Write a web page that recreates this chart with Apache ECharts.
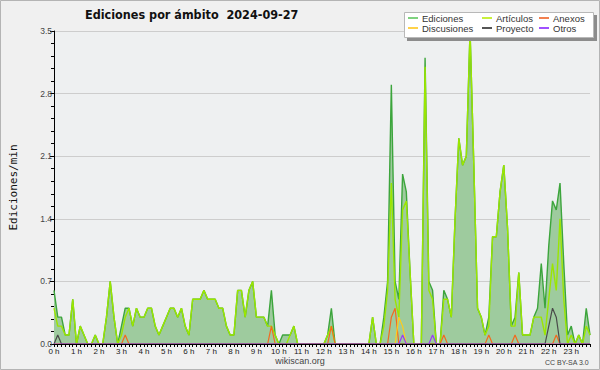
<!DOCTYPE html>
<html><head><meta charset="utf-8">
<script src="https://cdn.jsdelivr.net/npm/echarts@6/dist/echarts.min.js"></script>
<style>html,body{margin:0;padding:0;background:#f0f0f0;}#c{width:600px;height:370px;}</style>
</head><body><div id="c"></div>
<script>
const titleText = 'Ediciones por ámbito  2024-09-27';
const yAxisTitle = 'Ediciones/min';
const hourLabels = ['0 h','1 h','2 h','3 h','4 h','5 h','6 h','7 h','8 h','9 h','10 h','11 h',
  '12 h','13 h','14 h','15 h','16 h','17 h','18 h','19 h','20 h','21 h','22 h','23 h'];
const slotMinutes = ['00','10','20','30','40','50'];
const seriesNames = ['Ediciones','Artículos','Anexos','Discusiones','Proyecto','Otros'];

// values in edits/min, one per 10-minute slot, one row per hour
const ediciones = [
  0.6,0.3,0.3,0.1,0.1,0.5,
  0,0.2,0.1,0,0,0.1,
  0,0,0.3,0.7,0.3,0,
  0.2,0.4,0.4,0.2,0.4,0.3,
  0.3,0.4,0.4,0.2,0.1,0.2,
  0.3,0.4,0.4,0.3,0.4,0.2,
  0.1,0.5,0.5,0.5,0.6,0.5,
  0.5,0.5,0.4,0.4,0.2,0.1,
  0.1,0.6,0.6,0.3,0.6,0.7,
  0.3,0.3,0.3,0.2,0.6,0.1,
  0,0.1,0.1,0.1,0.2,0,
  0,0,0,0,0,0,
  0,0.1,0.4,0,0,0,
  0,0,0,0,0,0,
  0,0.3,0,0,0.3,0.7,
  2.9,0.7,0.5,1.9,1.7,0.8,
  0,0,0,3.2,0.7,0.6,
  0,0,0.6,0.5,0.3,1.4,
  2.3,2.0,2.1,3.5,2.0,0.4,
  0.3,0.1,0.3,1.2,1.2,1.7,
  2.0,1.3,0.2,0.3,0.8,0.1,
  0.1,0.1,0.3,0.4,0.9,0.4,
  1.1,1.6,1.5,1.8,0.9,0.1,
  0.2,0,0.1,0,0.4,0.1
];
const articulos = [
  0.4,0.2,0.2,0.1,0.1,0.5,
  0,0.2,0.1,0,0,0.1,
  0,0,0.3,0.7,0.3,0,
  0.1,0.3,0.4,0.2,0.4,0.3,
  0.3,0.4,0.4,0.2,0.1,0.2,
  0.3,0.4,0.4,0.3,0.4,0.2,
  0.1,0.5,0.5,0.5,0.6,0.5,
  0.5,0.5,0.4,0.4,0.2,0.1,
  0.1,0.6,0.6,0.3,0.6,0.7,
  0.3,0.3,0.3,0.2,0.2,0.1,
  0,0,0,0.1,0.2,0,
  0,0,0,0,0,0,
  0,0.1,0.2,0,0,0,
  0,0,0,0,0,0,
  0,0.3,0,0,0.2,0.6,
  1.8,0.5,0.3,1.5,1.6,0.8,
  0,0,0,3.1,0.6,0.5,
  0,0,0.5,0.5,0.3,1.4,
  2.3,2.0,2.1,3.5,2.0,0.4,
  0.3,0.1,0.2,1.2,1.2,1.7,
  2.0,1.3,0.2,0.2,0.8,0.1,
  0.1,0.1,0.3,0.3,0.3,0.1,
  0.5,0.9,0.6,1.4,0.5,0,
  0.1,0,0.1,0,0.2,0.1
];
const anexos = [
  0,0,0,0,0,0, 0,0,0,0,0,0, 0,0,0,0,0,0,
  0,0.1,0,0,0,0, 0,0,0,0,0,0, 0,0,0,0,0,0,
  0,0,0,0,0,0, 0,0,0,0,0,0, 0,0,0,0,0,0,
  0,0,0,0,0.2,0, 0,0,0,0,0,0, 0,0,0,0,0,0,
  0,0,0.2,0,0,0, 0,0,0,0,0,0, 0,0,0,0,0,0,
  0.3,0.4,0,0,0,0, 0,0,0,0,0,0, 0,0,0.1,0,0,0,
  0,0,0,0,0,0, 0,0,0.1,0,0,0, 0,0,0,0.1,0,0,
  0,0,0,0,0,0, 0,0,0.1,0,0,0, 0,0,0,0,0,0
];
const discusiones = [
  0,0,0,0,0,0, 0,0,0,0,0,0, 0,0,0,0,0,0,
  0,0,0,0,0,0, 0,0,0,0,0,0, 0,0,0,0,0,0,
  0,0,0,0,0,0, 0,0,0,0,0,0, 0,0,0,0,0,0,
  0,0,0,0,0,0, 0,0,0,0,0,0, 0,0,0,0,0,0,
  0,0,0,0,0,0, 0,0,0,0,0,0, 0,0,0,0,0,0,
  0,0,0.3,0.2,0,0, 0,0,0,0,0,0, 0,0,0,0,0,0,
  0,0,0,0,0,0, 0,0,0,0,0,0, 0,0,0,0,0,0,
  0,0,0,0,0,0, 0,0,0,0,0,0, 0,0,0,0,0,0
];
const proyecto = [
  0,0.1,0,0,0,0, 0,0,0,0,0,0, 0,0,0,0,0,0,
  0,0,0,0,0,0, 0,0,0,0,0,0, 0,0,0,0,0,0,
  0,0,0,0,0,0, 0,0,0,0,0,0, 0,0,0,0,0,0,
  0,0,0,0,0,0, 0,0,0,0,0,0, 0,0,0,0,0,0,
  0,0,0,0,0,0, 0,0,0,0,0,0, 0,0,0,0,0,0,
  0,0,0,0,0,0, 0,0,0,0,0,0, 0,0,0,0,0,0,
  0,0,0,0,0,0, 0,0,0,0,0,0, 0,0,0,0,0,0,
  0,0,0,0,0,0, 0.2,0.4,0.3,0,0,0, 0,0,0,0,0,0
];
const otros = [
  0,0,0,0,0,0, 0,0,0,0,0,0, 0,0,0,0,0,0,
  0,0,0,0,0,0, 0,0,0,0,0,0, 0,0,0,0,0,0,
  0,0,0,0,0,0, 0,0,0,0,0,0, 0,0,0,0,0,0,
  0,0,0,0,0,0, 0,0,0,0,0,0, 0,0,0,0,0,0,
  0,0,0,0,0,0, 0,0,0,0,0,0, 0,0,0,0,0,0,
  0,0,0,0.1,0,0, 0,0,0,0,0,0.1, 0,0,0,0,0,0,
  0,0,0,0,0,0, 0,0,0,0,0,0, 0,0,0,0,0,0,
  0,0,0,0,0,0, 0,0,0,0,0,0, 0,0,0,0,0,0
];
const yTicks = ['0.0','0.7','1.4','2.1','2.8','3.5'];

const categories = [];
hourLabels.forEach((h, hi) => slotMinutes.forEach(m => categories.push(hi + ':' + m)));

const lineColors = ['#3ca53c','#9be600','#f26a1f','#ffcc1a','#4a4a4a','#9b3cf5'];
const legendColors = ['#7fd27f','#c8f03c','#f28050','#ffd24a','#555555','#a050ff'];
const dataSets = [ediciones, articulos, anexos, discusiones, proyecto, otros];
const FONT = 'Liberation Sans';

const chart = echarts.init(document.getElementById('c'), null, {renderer:'svg'});
const series = seriesNames.map((name, k) => {
  const s = {
    name, type:'line', data: dataSets[k], symbol:'none', showSymbol:false,
    lineStyle:{color: lineColors[k], width: k < 2 ? 1.4 : 1.2},
    itemStyle:{color: lineColors[k]}, z: 2 + k * 0.1, animation:false
  };
  if (k === 0) s.areaStyle = {color:'#9ecb9e', opacity:1};
  return s;
});

function legendCol(names, left) {
  return {
    data: names.map(n => ({name:n, itemStyle:{color: legendColors[seriesNames.indexOf(n)]}})),
    orient:'vertical', left, top:13, padding:0, itemGap:0, itemWidth:10, itemHeight:2,
    icon:'rect', z:10,
    textStyle:{fontFamily:FONT, fontSize:9.5, color:'#333', lineHeight:10, padding:[0,0,0,-1]}
  };
}

chart.setOption({
  animation:false,
  backgroundColor:'#f0f0f0',
  title:{text:titleText, left:85, top:8, padding:0,
    textStyle:{fontFamily:'DejaVu Sans Condensed', fontWeight:'bold', fontSize:12.5, color:'#111'}},
  legend:[
    legendCol(['Ediciones','Discusiones'], 408),
    legendCol(['Artículos','Proyecto'], 482),
    legendCol(['Anexos','Otros'], 539)
  ],
  grid:{left:48, right:10, top:31, bottom:26, show:true, backgroundColor:'#eef0f1', borderWidth:0},
  xAxis:{type:'category', data:categories, boundaryGap:false, z:5,
    axisLine:{lineStyle:{color:'#000', width:1}},
    axisTick:{show:true, interval:0, length:3, lineStyle:{color:'#000'}},
    axisLabel:{interval:5, margin:3, fontFamily:FONT, fontSize:8, color:'#222',
      formatter:(v, i) => hourLabels[Math.floor(i / slotMinutes.length)]},
    splitLine:{show:false}},
  yAxis:{type:'value', min:0, max:3.5, interval:0.7,
    name:yAxisTitle, nameLocation:'middle', nameRotate:90, nameGap:35,
    nameTextStyle:{fontFamily:'DejaVu Sans Mono', fontSize:11, color:'#111'},
    axisLine:{show:true, lineStyle:{color:'#000', width:1}},
    axisTick:{show:true, length:4, lineStyle:{color:'#000'}},
    minorTick:{show:true, splitNumber:5, length:3, lineStyle:{color:'#000'}},
    axisLabel:{margin:2, fontFamily:FONT, fontSize:8.5, color:'#444',
      formatter:(v) => yTicks[Math.round(v / 0.7)]},
    splitLine:{show:true, lineStyle:{color:'#cdcdcd', width:1}}},
  graphic:[
    {type:'rect', z:0, shape:{x:0.5, y:0.5, width:599, height:369}, style:{fill:'none', stroke:'#b4b4b4', lineWidth:1}},
    {type:'rect', z:8, shape:{x:407, y:15, width:190, height:26}, style:{fill:'#8c8c8c'}},
    {type:'rect', z:9, shape:{x:404.5, y:12.5, width:189, height:25}, style:{fill:'#ffffff', stroke:'#b8b8b8', lineWidth:1}},
    {type:'text', z:9, left:'center', top:356, style:{text:'wikiscan.org', fontFamily:FONT, fontSize:9, fill:'#444'}},
    {type:'text', z:9, right:11, top:359, style:{text:'CC BY-SA 3.0', fontFamily:FONT, fontSize:7, fill:'#444'}}
  ],
  series
});
</script></body></html>
